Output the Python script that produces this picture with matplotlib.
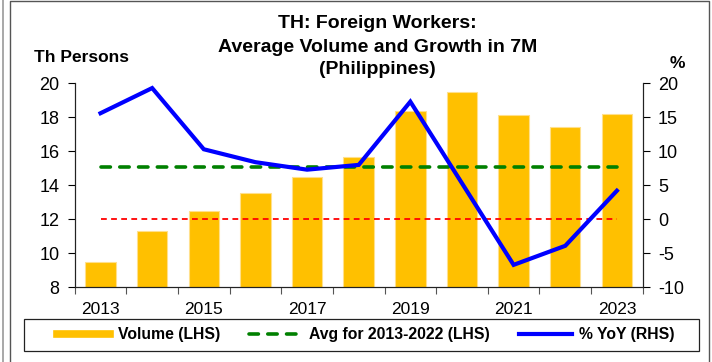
import matplotlib
matplotlib.use("Agg")
import matplotlib.pyplot as plt
from matplotlib.lines import Line2D
from matplotlib.patches import Rectangle
import numpy as np

plt.rcParams['font.family'] = ['Liberation Sans', 'DejaVu Sans']
plt.rcParams['axes.unicode_minus'] = False

years = [2013, 2014, 2015, 2016, 2017, 2018, 2019, 2020, 2021, 2022, 2023]
volume = [9.5, 11.3, 12.5, 13.55, 14.5, 15.65, 18.4, 19.5, 18.15, 17.45, 18.2]
yoy = [15.6, 19.3, 10.3, 8.4, 7.3, 8.0, 17.3, 5.3, -6.7, -3.9, 4.2]
avg_years = (2013, 2022)
tick_labels = ['2013', '2015', '2017', '2019', '2021', '2023']
title_lines = ['TH: Foreign Workers:', 'Average Volume and Growth in 7M', '(Philippines)']

avg_vol = np.mean([v for y, v in zip(years, volume) if avg_years[0] <= y <= avg_years[1]])

W, H = 712, 362
fig = plt.figure(figsize=(W / 100, H / 100), dpi=100)
ax = fig.add_axes([74.7 / W, 1 - 287.3 / H, (642.7 - 74.7) / W, (287.3 - 83.3) / H])
ax2 = ax.twinx()

x = np.arange(len(years))
ax.bar(x, volume, width=0.59, color='#FFC000', edgecolor='#FFE08C', linewidth=0.8, zorder=2)
ax.plot([x[0], x[-1]], [avg_vol, avg_vol], color='#008000', lw=2.6,
        linestyle=(0, (2.6, 2.6)), dash_capstyle='round', zorder=3)
ax.plot([x[0], x[-1]], [12, 12], color='#FF0000', lw=1.3,
        linestyle=(0, (3.2, 2.4)), zorder=3)
ax2.plot(x, yoy, color='#0000FF', lw=3.0, solid_joinstyle='miter', zorder=4)

ax.set_xlim(-0.5, len(years) - 0.5)
ax.set_ylim(8, 20)
ax.set_yticks(np.arange(8, 21, 2))
ax2.set_ylim(-10, 20)
ax2.set_yticks(np.arange(-10, 21, 5))

ax.set_xticks(np.arange(-0.5, len(years), 1))
ax.set_xticklabels([])
ax.set_xticks(x[::2], minor=True)
ax.set_xticklabels(tick_labels, minor=True)
ax.tick_params(axis='x', which='major', length=5, width=0.8, direction='out', color='#555555')
ax.tick_params(axis='x', which='minor', length=0, pad=10.5, labelsize=12.5)
ax.tick_params(axis='y', length=5, width=0.8, labelsize=13, pad=6)
ax2.tick_params(axis='y', length=5, width=0.8, labelsize=13, pad=6)

for a in (ax, ax2):
    a.spines['top'].set_visible(False)
    for s in ('left', 'right', 'bottom'):
        a.spines[s].set_linewidth(0.8)
        a.spines[s].set_color('#222222')
    a.set_facecolor('none')
ax.set_zorder(1)
ax2.set_zorder(2)

# three-line title
for line, base in zip(title_lines, (28, 51.5, 74)):
    fig.text(377.5 / W, 1 - base / H, line, ha='center', va='baseline',
             fontsize=14, fontweight='bold')
fig.text(34 / W, 1 - 62 / H, 'Th Persons', ha='left', va='baseline',
         fontsize=12.5, fontweight='bold')
fig.text(677 / W, 1 - 68 / H, '%', ha='center', va='baseline',
         fontsize=12.5, fontweight='bold')

handles = [
    Line2D([0], [0], color='#FFC000', lw=5.5),
    Line2D([0], [0], color='#008000', lw=2.6, linestyle=(0, (2.6, 2.6)), dash_capstyle='round'),
    Line2D([0], [0], color='#0000FF', lw=3),
]
labels = ['Volume (LHS)', 'Avg for 2013-2022 (LHS)', '% YoY (RHS)']
leg = fig.legend(handles, labels, loc='center', ncol=3,
                 bbox_to_anchor=(366 / W, 1 - 335 / H),
                 frameon=False, prop={'weight': 'bold', 'size': 11.3},
                 handlelength=3.4, handletextpad=0.45, columnspacing=1.85,
                 borderpad=0.3)
fig.add_artist(Rectangle((23.6 / W, 1 - 351 / H), (699 - 23.6) / W, 32 / H,
                         transform=fig.transFigure, fill=False,
                         edgecolor='#222222', lw=0.9))

# outer frame
fig.add_artist(Line2D([3 / W, 3 / W], [0, 1], color='#999999', lw=1.2, transform=fig.transFigure))
fig.add_artist(Line2D([10 / W, 10 / W, 709 / W, 709 / W], [0, 1 - 1 / H, 1 - 1 / H, 0],
                      color='#555555', lw=1.0, transform=fig.transFigure))

fig.savefig('out.png', dpi=100)
